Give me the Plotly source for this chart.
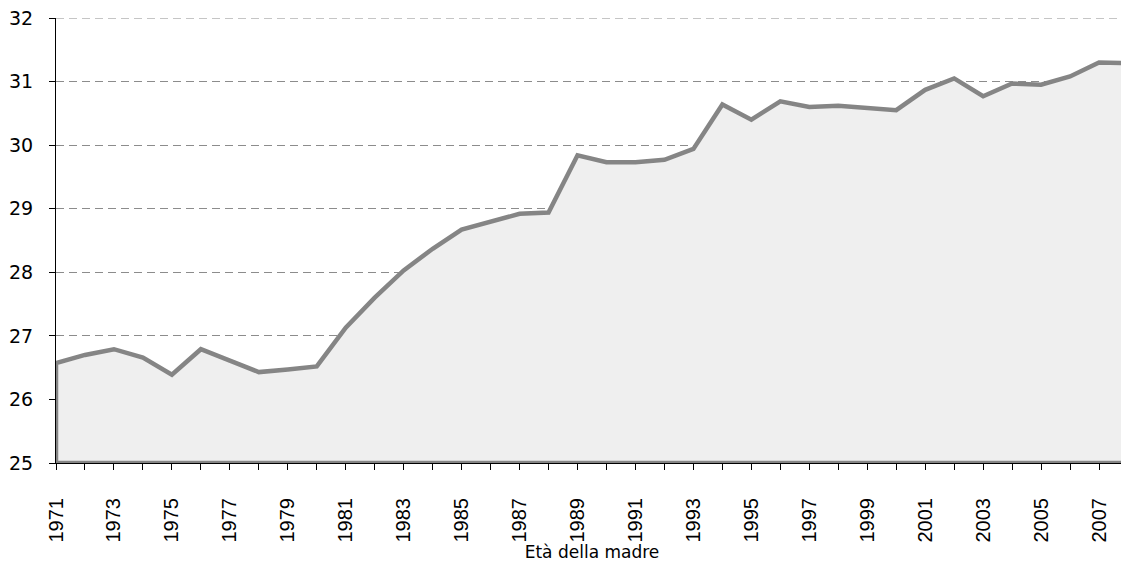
import plotly.graph_objects as go

years = list(range(1971, 2009))
eta_madre = [26.57, 26.70, 26.79, 26.66, 26.39, 26.79, 26.61, 26.43, 26.47, 26.52,
             27.13, 27.60, 28.03, 28.37, 28.67, 28.80, 28.92, 28.94, 29.84, 29.73,
             29.73, 29.77, 29.94, 30.64, 30.40, 30.69, 30.60, 30.62, 30.59, 30.55,
             30.87, 31.05, 30.77, 30.97, 30.95, 31.08, 31.30, 31.29]
y_min, y_max = 25, 32
x_title = "Età della madre"

# closed outline of the area (data + baseline at axis minimum)
poly_x = years + [years[-1], years[0], years[0]]
poly_y = eta_madre + [y_min, y_min, eta_madre[0]]

fig = go.Figure()
fig.add_trace(go.Scatter(
    x=poly_x, y=poly_y, mode="lines", fill="toself",
    fillcolor="#efefef", line=dict(color="#858585", width=4.5),
    hoverinfo="skip", showlegend=False))

# the page body has an 8px margin, so the figure is sized to end at the window edge
fig.update_layout(
    width=1121, height=554,
    margin=dict(l=48, r=1, t=10, b=99),
    paper_bgcolor="white", plot_bgcolor="white",
    showlegend=False,
    shapes=[dict(type="line", xref="paper", x0=0, x1=1, yref="y", y0=y_max, y1=y_max,
                 line=dict(color="#8c8c8c", width=1, dash="8px,5px"), layer="below")],
)
fig.update_xaxes(
    range=[years[0], years[-1]],
    tick0=1971, dtick=2, tickangle=-90,
    ticks="outside", ticklen=6, tickcolor="black",
    minor=dict(dtick=1, ticks="outside", ticklen=6, tickcolor="black", showgrid=False),
    showgrid=False, showline=True, linecolor="black", linewidth=1,
    tickfont=dict(family="Liberation Sans, Arial", size=20, color="black"),
    ticklabelstandoff=20,
    title=dict(text=x_title, font=dict(family="DejaVu Sans, Verdana", size=17, color="black"), standoff=13),
    zeroline=False, automargin=False,
)
fig.update_yaxes(
    range=[y_min, y_max], dtick=1,
    ticks="outside", ticklen=6, tickcolor="black",
    showgrid=True, gridcolor="#8c8c8c", griddash="8px,5px", gridwidth=1,
    showline=True, linecolor="black", linewidth=1,
    tickfont=dict(family="DejaVu Sans, Verdana", size=19, color="black"),
    ticklabelstandoff=12, ticklabeloverflow="allow",
    zeroline=False, automargin=False,
)
fig.write_html("out.html")
